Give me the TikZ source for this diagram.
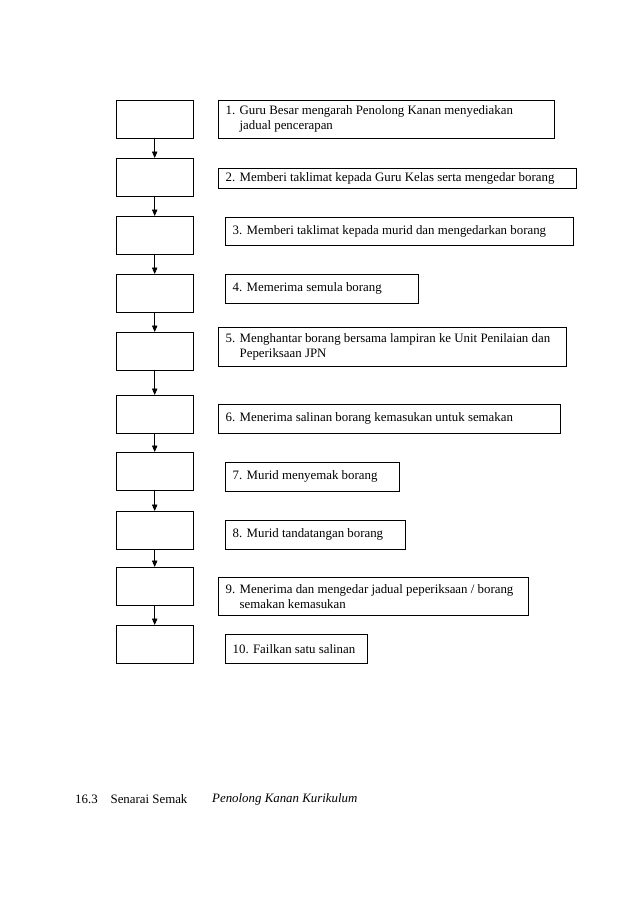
\documentclass[tikz,border=0pt]{standalone}
\usepackage{fontspec}
\setmainfont{Liberation Serif}
\usetikzlibrary{arrows.meta,positioning}
\tikzset{>={Triangle[length=6pt,width=5pt]},line width=.7pt,
  every node/.style={font=\fontsize{12}{14}\selectfont},
  emptybox/.style={draw,anchor=north west,minimum width=71.8pt,minimum height=35.4pt,inner sep=0pt},
  notebox/.style={draw,anchor=north west,inner xsep=7pt,inner ysep=0pt,align=flush left},
  link/.style={->,line width=.7pt},
  footnote/.style={anchor=west,inner sep=0pt}}

\begin{document}
\begin{tikzpicture}[x=0.9326pt,y=-0.9326pt]
\useasboundingbox (0,0) rectangle (638,903);
\foreach \i/\y in {1/100,2/158,3/216,4/274,5/332,6/395,7/452,8/511,9/567,10/625}
  \node[emptybox] (b\i) at (116,\y) {};
\foreach \i [count=\j from 2] in {1,...,9}
  \draw[link] (b\i) -- (b\j);
\foreach \i/\xa/\ya/\xb/\yb/\txt in {
  1/218/100/554/138/{1. Guru Besar mengarah Penolong Kanan menyediakan\\\phantom{1. }jadual pencerapan},
  2/218/168/576/188/{2. Memberi taklimat kepada Guru Kelas serta mengedar borang},
  3/225/217/573/245/{3. Memberi taklimat kepada murid dan mengedarkan borang},
  4/225/274/418/303/{4. Memerima semula borang},
  5/218/327/566/366/{5. Menghantar borang bersama lampiran ke Unit Penilaian dan\\\phantom{5. }Peperiksaan JPN},
  6/218/404/560/433/{6. Menerima salinan borang kemasukan untuk semakan},
  7/225/462/399/491/{7. Murid menyemak borang},
  8/225/520/405/549/{8. Murid tandatangan borang},
  9/218/577/528/615/{9. Menerima dan mengedar jadual peperiksaan / borang\\\phantom{9. }semakan kemasukan},
  10/225/634/367/663/{10. Failkan satu salinan}}{
  \pgfmathsetmacro\bw{(\xb-\xa)*0.9326}
  \pgfmathsetmacro\bh{(\yb-\ya)*0.9326}
  \pgfmathsetmacro\tw{\bw-14}
  \node[notebox,text width=\tw pt,minimum height=\bh pt] (n\i) at (\xa,\ya) {\txt};
}
\node[footnote] (sec) at (75,799) {16.3\quad Senarai Semak};
\node[footnote,font=\fontsize{12}{14}\selectfont\itshape] (role) at (212,799) {Penolong Kanan Kurikulum};
\end{tikzpicture}
\end{document}
